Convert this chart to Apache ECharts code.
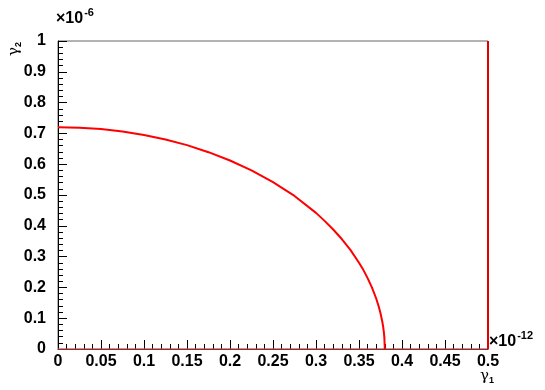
<!DOCTYPE html>
<html>
<head>
<meta charset="utf-8">
<script src="https://cdn.jsdelivr.net/npm/echarts@6/dist/echarts.min.js"></script>
<style>
  html, body { margin: 0; padding: 0; background: #fff; }
  #chart { width: 545px; height: 390px; }
</style>
</head>
<body>
<div id="chart"></div>
<script>
// contour points (gamma1 in 1e-12, gamma2 in 1e-6)
const gamma1 = [0, 0.025, 0.05, 0.075, 0.1, 0.125, 0.15, 0.175, 0.2, 0.225, 0.25, 0.275, 0.3, 0.31, 0.32, 0.33, 0.34, 0.35, 0.355, 0.36, 0.365, 0.37, 0.373, 0.375, 0.377, 0.378, 0.379, 0.3795, 0.38];
const gamma2 = [0.72, 0.718, 0.714, 0.706, 0.695, 0.680, 0.662, 0.639, 0.612, 0.580, 0.542, 0.497, 0.442, 0.416, 0.388, 0.357, 0.322, 0.280, 0.257, 0.230, 0.200, 0.164, 0.137, 0.116, 0.090, 0.074, 0.052, 0.037, 0];
// boundary lines of the region
const edgeX = [0.5, 0.5];
const edgeY = [0, 1];
const baseX = [0, 0.5];
const baseY = [0, 0];

const xTicks = { min: 0, max: 0.5, step: 0.05 };
const yTicks = { min: 0, max: 1, step: 0.1 };

const zip = (a, b) => a.map((v, i) => [v, b[i]]);

const chart = echarts.init(document.getElementById('chart'));
const labelFont = { fontFamily: 'Liberation Sans, Arial, sans-serif', fontWeight: 'bold', fontSize: 16, color: '#000' };
const powRich = {
  a: { fontFamily: 'Liberation Sans, Arial', fontSize: 16, fontWeight: 'bold', fill: '#000', verticalAlign: 'bottom' },
  b: { fontFamily: 'Liberation Sans, Arial', fontSize: 11, fontWeight: 'bold', fill: '#000', verticalAlign: 'top', padding: [0, 0, 9, 1] }
};
const greekRich = {
  a: { fontFamily: 'DejaVu Serif, serif', fontSize: 15, fill: '#000' },
  b: { fontFamily: 'Liberation Sans, Arial', fontSize: 9, fontWeight: 'bold', fill: '#000', padding: [8, 0, 0, 0] }
};

chart.setOption({
  animation: false,
  grid: {
    left: 58, right: 57, top: 41, bottom: 41,
    show: true, borderColor: '#666', borderWidth: 1
  },
  xAxis: {
    type: 'value',
    min: xTicks.min, max: xTicks.max, interval: xTicks.step,
    axisLine: { show: true, onZero: false, lineStyle: { color: '#000' } },
    axisTick: { show: true, inside: true, length: 9, lineStyle: { color: '#000' } },
    minorTick: { show: true, splitNumber: 5, length: 5, lineStyle: { color: '#000' } },
    splitLine: { show: false },
    axisLabel: Object.assign({ margin: 5 }, labelFont)
  },
  yAxis: {
    type: 'value',
    min: yTicks.min, max: yTicks.max, interval: yTicks.step,
    axisLine: { show: true, onZero: false, lineStyle: { color: '#000' } },
    axisTick: { show: true, inside: true, length: 9, lineStyle: { color: '#000' } },
    minorTick: { show: true, splitNumber: 5, length: 5, lineStyle: { color: '#000' } },
    splitLine: { show: false },
    axisLabel: Object.assign({ margin: 12 }, labelFont)
  },
  graphic: [
    { type: 'text', left: 56, top: 7, style: { text: '{a|×10}{b|-6}', rich: powRich } },
    { type: 'text', left: 489, top: 330, style: { text: '{a|×10}{b|-12}', rich: powRich } },
    { type: 'text', x: 480, y: 368, style: { text: '{a|γ}{b|1}', rich: greekRich } },
    { type: 'text', x: 6, y: 56, rotation: Math.PI / 2, style: { text: '{a|γ}{b|2}', rich: greekRich } }
  ],
  series: [
    {
      type: 'line', data: zip(gamma1, gamma2), smooth: false,
      showSymbol: false, clip: false,
      lineStyle: { color: '#ff0000', width: 2 }, z: 5
    },
    {
      type: 'line', data: zip(edgeX, edgeY), showSymbol: false, clip: false,
      lineStyle: { color: '#e00000', width: 2 }, z: 5
    },
    {
      type: 'line', data: zip(baseX, baseY), showSymbol: false, clip: false,
      lineStyle: { color: '#ff6666', width: 1 }, z: 1
    }
  ]
});
</script>
</body>
</html>
